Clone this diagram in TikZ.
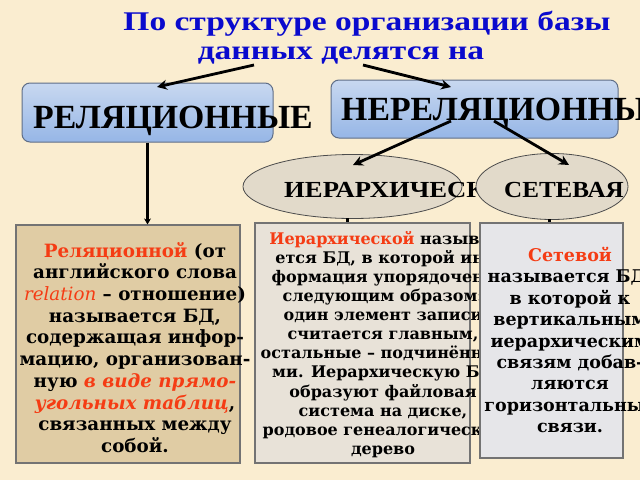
\documentclass[tikz,border=0pt]{standalone}
\usepackage{fontspec}
\setmainfont{DejaVu Serif}
\newfontfamily\tnr{Liberation Serif}
\newfontfamily\tnrw[FakeStretch=1.24]{Liberation Serif}
\newfontfamily\tnre[FakeStretch=1.09]{Liberation Serif}
\newfontfamily\tnrh[FakeStretch=1.16]{Liberation Serif}
\usetikzlibrary{arrows.meta,shapes.geometric}
\definecolor{bg}{RGB}{250,237,208}
\definecolor{ttlblue}{RGB}{10,10,205}
\definecolor{myred}{RGB}{245,60,20}
\definecolor{boxtop}{RGB}{200,216,240}
\definecolor{boxbot}{RGB}{150,182,230}
\definecolor{boxline}{RGB}{95,110,135}
\definecolor{ellfill}{RGB}{226,218,202}
\definecolor{tanfill}{RGB}{224,204,164}
\definecolor{grayfill}{RGB}{232,226,216}
\definecolor{marble}{RGB}{230,230,233}
\tikzset{
  ttl/.style={font=\tnrw\bfseries\fontsize{27}{30}\selectfont, text=ttlblue, inner sep=0pt, anchor=base},
  bluebox/.style={draw=boxline, line width=1pt, rounded corners=8pt, top color=boxtop, bottom color=boxbot, inner sep=0pt},
  bigtxt/.style={font=\tnr\bfseries\fontsize{33.8}{36}\selectfont, inner sep=0pt, anchor=base west},
  ell/.style={ellipse, draw=black!70, line width=0.8pt, fill=ellfill, inner sep=0pt},
  elltxt/.style={font=\tnre\bfseries\fontsize{23}{26}\selectfont, inner sep=0pt, anchor=base west},
  textbox/.style={draw=black!55, line width=1.2pt, inner sep=0pt},
  arr/.style={line width=2.8pt, -{Stealth[length=10pt,width=10pt]}},
  thinarr/.style={line width=2.2pt, -{Stealth[length=6pt,width=7pt]}},
  stub/.style={line width=3pt},
}
\begin{document}
\begin{tikzpicture}[x=1pt,y=-1pt]
\fill[bg] (0,0) rectangle (640,480);
\useasboundingbox (0,0) rectangle (640,480);

% title
\node[ttl] (title1) at (367,30) {По структуре организации базы};
\node[ttl] (title2) at (341,59) {данных делятся на};

% top boxes
\node[bluebox, minimum width=251pt, minimum height=59pt] (rel) at (147.5,112.5) {};
\node[bigtxt] (reltxt) at (33,128) {РЕЛЯЦИОННЫЕ};
\node[bluebox, minimum width=287pt, minimum height=58pt] (nonrel) at (474.5,109) {};
\node[bigtxt] (nonreltxt) at (341,120) {НЕРЕЛЯЦИОННЫЕ};

% arrows from title
\coordinate (s1) at (254,65);
\coordinate (e1) at (157,87);
\coordinate (s2) at (363,65);
\coordinate (e2) at (451,87);
\draw[arr] (s1) -- (e1);
\draw[arr] (s2) -- (e2);

% ellipses
\node[ell, minimum width=219pt, minimum height=64pt] (hier) at (352.5,186.5) {};
\node[elltxt, font=\tnrh\bfseries\fontsize{23}{26}\selectfont] (hiertxt) at (284,197) {ИЕРАРХИЧЕСКАЯ};
\node[ell, minimum width=152pt, minimum height=66pt] (net) at (552,186.5) {};
\node[elltxt] (nettxt) at (504,197) {СЕТЕВАЯ};

% arrows from non-relational box
\coordinate (s3) at (451,121);
\coordinate (e3) at (353,165);
\coordinate (s4) at (494,121);
\coordinate (e4) at (569,165);
\draw[arr] (s3) -- (e3);
\draw[arr] (s4) -- (e4);

% text boxes
\node[textbox, fill=tanfill, minimum width=224pt, minimum height=238pt] (relbox) at (128,344) {};
\node[textbox, fill=grayfill, minimum width=215pt, minimum height=240pt] (hierbox) at (362.5,343) {};

\node[inner sep=0pt, anchor=north, align=center,
      font=\bfseries\fontsize{16}{19.1}\selectfont] (hiertext) at (383,231)
 {{\color{myred}Иерархической} называ-\\
  ется БД, в которой ин-\\
  формация упорядочена\\
  следующим образом:\\
  один элемент записи\\
  считается главным,\\
  остальные – подчинённы-\\
  ми. Иерархическую БД\\
  образуют файловая\\
  система на диске,\\
  родовое генеалогическое\\
  дерево};

\node[textbox, fill=marble, minimum width=143pt, minimum height=235pt] (netbox) at (551.5,340.5) {};

\node[inner sep=0pt, anchor=north, align=center,
      font=\bfseries\fontsize{18.3}{21.7}\selectfont] (reltext) at (135,242)
 {{\color{myred}Реляционной} (от\\
  английского слова\\
  {\color{myred}\mdseries\itshape relation} – отношение)\\
  называется БД,\\
  содержащая инфор-\\
  мацию, организован-\\
  ную {\color{myred}\itshape в виде прямо-}\\
  {\color{myred}\itshape угольных таблиц},\\
  связанных между\\
  собой.};

\node[inner sep=0pt, anchor=north, align=center,
      font=\bfseries\fontsize{17.5}{21.4}\selectfont] (nettext) at (570,247)
 {{\color{myred}Сетевой}\\
  называется БД,\\
  в которой к\\
  вертикальным\\
  иерархическим\\
  связям добав-\\
  ляются\\
  горизонтальные\\
  связи.};

% connectors to text boxes
\draw[thinarr] (rel.south) -- (rel.south |- relbox.north);
\coordinate (c1) at (347,218);
\coordinate (c2) at (549,219);
\draw[stub] (c1) -- (c1 |- hierbox.north);
\draw[stub] (c2) -- (c2 |- netbox.north);
\end{tikzpicture}
\end{document}
